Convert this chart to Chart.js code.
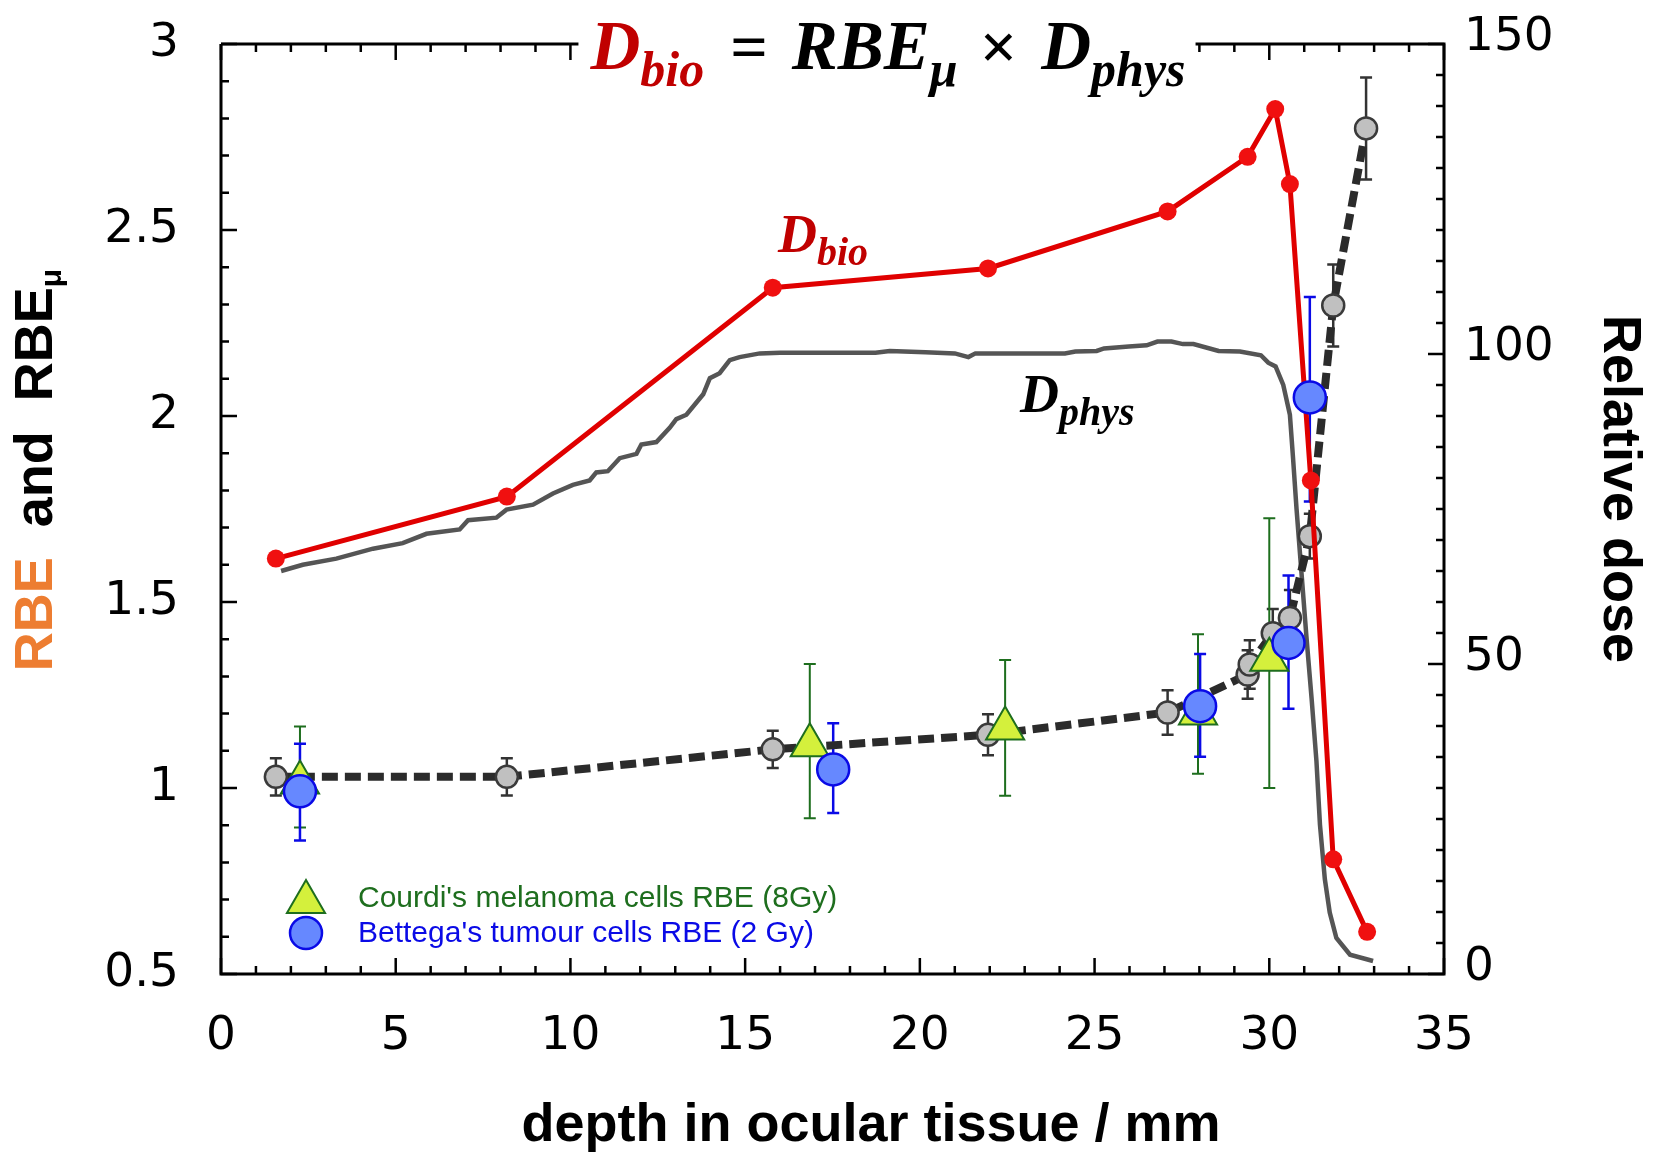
<!DOCTYPE html>
<html lang="en">
<head>
<meta charset="UTF-8">
<title>RBE and relative dose vs depth in ocular tissue</title>
<script src="https://cdn.jsdelivr.net/npm/chart.js"></script>
<style>
    html, body { margin: 0; padding: 0; background: #fff; }
    #chart { display: block; }
</style>
</head>
<body>
<canvas id="chart" width="1654" height="1154"></canvas>
<script>
// axis ticks
const xTicks = [0, 5, 10, 15, 20, 25, 30, 35];
const rbeTicks = [0.5, 1, 1.5, 2, 2.5, 3];
const doseTicks = [0, 50, 100, 150];

// physical depth-dose curve, D_phys (relative dose)
const physDepth = [1.72, 2.34, 3.30, 4.35, 5.20, 5.88, 6.83, 7.07, 7.88, 8.17, 8.93, 9.50, 10.07, 10.55, 10.74,
    11.07, 11.41, 11.89, 12.03, 12.46, 12.84, 13.03, 13.32, 13.80, 13.99, 14.27, 14.56, 14.84, 15.42, 16.00,
    18.73, 19.14, 20.16, 21.00, 21.39, 21.59, 24.15, 24.45, 25.06, 25.27, 25.98, 26.49, 26.80, 27.20, 27.53,
    27.83, 28.55, 29.16, 29.76, 29.97, 30.18, 30.40, 30.59, 30.68, 30.78, 30.92, 31.06, 31.21, 31.35, 31.45,
    31.59, 31.73, 31.92, 32.31, 32.97];
const physDose = [65.0, 66.0, 67.0, 68.6, 69.5, 71.0, 71.7, 73.2, 73.6, 74.9, 75.7, 77.5, 78.9, 79.6, 80.9,
    81.1, 83.2, 83.9, 85.4, 85.8, 88.1, 89.5, 90.2, 93.5, 96.1, 96.9, 99.0, 99.5, 100.1, 100.2,
    100.2, 100.5, 100.3, 100.1, 99.5, 100.1, 100.1, 100.4, 100.5, 100.9, 101.2, 101.4, 102.0, 102.0, 101.6,
    101.6, 100.5, 100.4, 99.8, 98.6, 98.0, 95.0, 90.2, 83.2, 75.0, 64.8, 54.6, 44.5, 34.3, 24.1,
    15.3, 9.9, 5.8, 3.1, 2.1];

// biological dose D_bio = RBE_mu x D_phys (relative dose)
const bioDepth = [1.57, 8.18, 15.79, 21.95, 27.09, 29.38, 30.17, 30.59, 31.19, 31.83, 32.80];
const bioDose = [67.0, 77.0, 110.7, 113.8, 123.0, 131.8, 139.5, 127.4, 79.6, 18.5, 6.8];

// RBE_mu (grey markers, dashed line) with symmetric error
const muDepth = [1.57, 8.18, 15.79, 21.95, 27.09, 29.38, 29.44, 30.10, 30.59, 31.16, 31.83, 32.77];
const muRbe = [1.03, 1.03, 1.104, 1.143, 1.203, 1.305, 1.332, 1.416, 1.457, 1.677, 2.297, 2.773];
const muErr = [0.05, 0.05, 0.05, 0.055, 0.06, 0.065, 0.065, 0.065, 0.075, 0.06, 0.11, 0.137];

// Courdi's melanoma cells RBE (8Gy)
const courdiDepth = [2.26, 16.85, 22.44, 27.96, 30.00];
const courdiRbe = [1.015, 1.115, 1.16, 1.20, 1.345];
const courdiHigh = [1.165, 1.333, 1.344, 1.413, 1.725];
const courdiLow = [0.894, 0.919, 0.979, 1.038, 1.0];

// Bettega's tumour cells RBE (2 Gy)
const bettegaDepth = [2.26, 17.52, 28.02, 30.55, 31.16];
const bettegaRbe = [0.991, 1.05, 1.22, 1.39, 2.05];
const bettegaHigh = [1.119, 1.174, 1.36, 1.571, 2.32];
const bettegaLow = [0.859, 0.933, 1.084, 1.213, 1.77];

const toXY = (xs, ys) => xs.map((x, i) => ({ x: x, y: ys[i] }));

const RED = '#e00000';
const TITLE_RED = '#c00000';
const GREEN = '#1e6e1e';
const BLUE = '#0a0ae6';
const SANS = '"Liberation Sans", Arial, sans-serif';
const NUM = '"DejaVu Sans", "Liberation Sans", sans-serif';
const SERIF = '"Liberation Serif", "Times New Roman", serif';

// sequence of text pieces, used for the formula and the curve labels
function drawPieces(ctx, pieces, x, y) {
    let cx = x;
    pieces.forEach(p => {
        if (p.gap) { cx += p.gap; return; }
        ctx.font = p.f;
        ctx.fillStyle = p.c || '#000';
        ctx.fillText(p.t, cx, y + (p.dy || 0));
        cx += ctx.measureText(p.t).width;
    });
    return cx - x;
}
function piecesWidth(ctx, pieces) {
    let w = 0;
    pieces.forEach(p => {
        if (p.gap) { w += p.gap; return; }
        ctx.font = p.f;
        w += ctx.measureText(p.t).width;
    });
    return w;
}

const frame = {
    id: 'frame',
    beforeDatasetsDraw(chart) {
        const { ctx, chartArea: a, scales } = chart;
        const x = scales.x, y = scales.y, y2 = scales.y2;
        ctx.save();
        ctx.strokeStyle = '#000';
        ctx.lineWidth = 3;
        ctx.beginPath();
        ctx.moveTo(a.left, a.top);
        ctx.lineTo(a.left, a.bottom);
        ctx.lineTo(a.right, a.bottom);
        ctx.lineTo(a.right, a.top);
        ctx.lineTo(a.left, a.top);
        ctx.stroke();

        // inward ticks
        ctx.lineWidth = 2.5;
        ctx.beginPath();
        for (let i = 0; i <= 35; i++) {
            const px = x.getPixelForValue(i);
            const len = i % 5 === 0 ? 16 : 8;
            ctx.moveTo(px, a.bottom); ctx.lineTo(px, a.bottom - len);
            ctx.moveTo(px, a.top); ctx.lineTo(px, a.top + len);
        }
        for (let i = 5; i <= 30; i++) {
            const py = y.getPixelForValue(i / 10);
            const len = i % 5 === 0 ? 16 : 8;
            ctx.moveTo(a.left, py); ctx.lineTo(a.left + len, py);
        }
        for (let v = 0; v <= 150; v += 5) {
            const py = y2.getPixelForValue(v);
            const len = v % 50 === 0 ? 16 : 8;
            ctx.moveTo(a.right, py); ctx.lineTo(a.right - len, py);
        }
        ctx.stroke();

        // error bars
        const bar = (xs, lo, hi, color, width, cap) => {
            ctx.strokeStyle = color;
            ctx.lineWidth = width;
            ctx.beginPath();
            xs.forEach((d, i) => {
                const px = x.getPixelForValue(d);
                const p1 = y.getPixelForValue(lo[i]);
                const p2 = y.getPixelForValue(hi[i]);
                ctx.moveTo(px, p1); ctx.lineTo(px, p2);
                ctx.moveTo(px - cap, p1); ctx.lineTo(px + cap, p1);
                ctx.moveTo(px - cap, p2); ctx.lineTo(px + cap, p2);
            });
            ctx.stroke();
        };
        bar(muDepth, muRbe.map((v, i) => v - muErr[i]), muRbe.map((v, i) => v + muErr[i]), '#333', 2.5, 6);
        bar(courdiDepth, courdiLow, courdiHigh, GREEN, 2, 6);
        bar(bettegaDepth, bettegaLow, bettegaHigh, BLUE, 2.5, 6);
        ctx.restore();
    },
    afterDraw(chart) {
        const { ctx, chartArea: a } = chart;
        ctx.save();
        ctx.textBaseline = 'alphabetic';
        ctx.textAlign = 'left';

        // formula on top of the frame
        const mainF = 'bold italic 69px ' + SERIF;
        const subF = 'bold italic 50px ' + SERIF;
        const upF = 'bold 66px ' + SERIF;
        const formula = [
            { t: 'D', f: mainF, c: TITLE_RED },
            { t: 'bio', f: subF, c: TITLE_RED, dy: 17 },
            { gap: 26 },
            { t: '=', f: upF },
            { gap: 24 },
            { t: 'RBE', f: mainF },
            { t: '\u03bc', f: subF, dy: 17 },
            { gap: 22 },
            { t: '\u00d7', f: upF },
            { gap: 24 },
            { t: 'D', f: mainF },
            { t: 'phys', f: subF, dy: 17 }
        ];
        const fw = piecesWidth(ctx, formula);
        const fx = 888 - fw / 2;
        ctx.fillStyle = '#fff';
        ctx.fillRect(fx - 12, a.top - 4, fw + 22, 22);
        drawPieces(ctx, formula, fx, 69);

        // curve labels
        drawPieces(ctx, [
            { t: 'D', f: 'bold italic 54px ' + SERIF, c: TITLE_RED },
            { t: 'bio', f: 'bold italic 40px ' + SERIF, c: TITLE_RED, dy: 13 }
        ], 778, 252);
        drawPieces(ctx, [
            { t: 'D', f: 'bold italic 54px ' + SERIF },
            { t: 'phys', f: 'bold italic 40px ' + SERIF, dy: 13 }
        ], 1020, 412);

        // x axis title
        ctx.textBaseline = 'middle';
        ctx.textAlign = 'center';
        ctx.font = 'bold 54px ' + SANS;
        ctx.fillStyle = '#000';
        ctx.fillText('depth in ocular tissue / mm', 871, 1126);

        // right axis title, reading downwards
        ctx.translate(1619, 489);
        ctx.rotate(Math.PI / 2);
        ctx.fillText('Relative dose', 0, 0);
        ctx.setTransform(1, 0, 0, 1, 0, 0);

        // left axis title: RBE (orange) and RBE_mu
        ctx.textAlign = 'left';
        ctx.translate(37, 470);
        ctx.rotate(-Math.PI / 2);
        const tF = 'bold 54px ' + SANS;
        const tS = 'bold 30px ' + SANS;
        const yTitle = [
            { t: 'RBE', f: tF, c: '#ed7d31' },
            { t: '  and  RBE', f: tF },
            { t: '\u03bc', f: tS, dy: 16 }
        ];
        drawPieces(ctx, yTitle, -piecesWidth(ctx, yTitle) / 2, 0);
        ctx.setTransform(1, 0, 0, 1, 0, 0);

        // legend
        const lx = 306;
        ctx.lineWidth = 2;
        ctx.fillStyle = '#d4f03c';
        ctx.strokeStyle = GREEN;
        const r = 22, ty = 902;
        ctx.beginPath();
        ctx.moveTo(lx, ty - r);
        ctx.lineTo(lx + r * Math.sin(2 * Math.PI / 3), ty + r / 2);
        ctx.lineTo(lx - r * Math.sin(2 * Math.PI / 3), ty + r / 2);
        ctx.closePath();
        ctx.fill(); ctx.stroke();
        ctx.lineWidth = 2.5;
        ctx.fillStyle = '#6688ff';
        ctx.strokeStyle = BLUE;
        ctx.beginPath();
        ctx.arc(lx, 933, 16, 0, Math.PI * 2);
        ctx.fill(); ctx.stroke();
        ctx.font = '30px ' + SANS;
        ctx.textBaseline = 'middle';
        ctx.fillStyle = GREEN;
        ctx.fillText("Courdi's melanoma cells RBE (8Gy)", 358, 899);
        ctx.fillStyle = BLUE;
        ctx.fillText("Bettega's tumour cells RBE (2 Gy)", 358, 934);
        ctx.restore();
    }
};

new Chart(document.getElementById('chart'), {
    type: 'line',
    data: {
        datasets: [
            {
                label: "Bettega's tumour cells RBE (2 Gy)",
                data: toXY(bettegaDepth, bettegaRbe),
                yAxisID: 'y',
                showLine: false,
                pointStyle: 'circle',
                pointRadius: 16,
                pointBackgroundColor: '#6688ff',
                pointBorderColor: BLUE,
                pointBorderWidth: 2.5,
                order: 0
            },
            {
                label: "Courdi's melanoma cells RBE (8Gy)",
                data: toXY(courdiDepth, courdiRbe),
                yAxisID: 'y',
                showLine: false,
                pointStyle: 'triangle',
                pointRadius: 22,
                pointBackgroundColor: '#d4f03c',
                pointBorderColor: GREEN,
                pointBorderWidth: 2,
                order: 1
            },
            {
                label: 'D_bio',
                data: toXY(bioDepth, bioDose),
                yAxisID: 'y2',
                borderColor: RED,
                borderWidth: 5,
                pointRadius: 9,
                pointBackgroundColor: '#f01010',
                pointBorderWidth: 0,
                order: 2
            },
            {
                label: 'RBE_mu',
                data: toXY(muDepth, muRbe),
                yAxisID: 'y',
                borderColor: '#2b2b2b',
                borderWidth: 8,
                borderDash: [16, 7],
                pointRadius: 11,
                pointBackgroundColor: '#c0c0c0',
                pointBorderColor: '#3a3a3a',
                pointBorderWidth: 2.5,
                order: 3
            },
            {
                label: 'D_phys',
                data: toXY(physDepth, physDose),
                yAxisID: 'y2',
                borderColor: '#555555',
                borderWidth: 4.5,
                pointRadius: 0,
                order: 4
            }
        ]
    },
    options: {
        responsive: false,
        animation: false,
        events: [],
        layout: { padding: { top: 44, left: 0, right: 0, bottom: 0 } },
        plugins: {
            legend: { display: false },
            tooltip: { enabled: false }
        },
        scales: {
            x: {
                type: 'linear',
                position: 'bottom',
                min: xTicks[0],
                max: xTicks[xTicks.length - 1],
                afterBuildTicks: s => { s.ticks = xTicks.map(v => ({ value: v })); },
                afterFit: s => { s.height = 180; s.paddingLeft = 0; s.paddingRight = 0; },
                grid: { display: false, drawTicks: false },
                border: { display: false },
                ticks: { color: '#000', font: { family: NUM, size: 47 }, padding: 35, maxRotation: 0 }
            },
            y: {
                type: 'linear',
                position: 'left',
                min: rbeTicks[0],
                max: rbeTicks[rbeTicks.length - 1],
                afterBuildTicks: s => { s.ticks = rbeTicks.map(v => ({ value: v })); },
                afterFit: s => { s.width = 221; s.paddingTop = 0; s.paddingBottom = 0; },
                grid: { display: false, drawTicks: false },
                border: { display: false },
                ticks: { color: '#000', font: { family: NUM, size: 47 }, padding: 42, callback: v => String(v) }
            },
            y2: {
                type: 'linear',
                position: 'right',
                min: doseTicks[0],
                max: doseTicks[doseTicks.length - 1],
                afterBuildTicks: s => { s.ticks = doseTicks.map(v => ({ value: v })); },
                afterFit: s => { s.width = 210; s.paddingTop = 0; s.paddingBottom = 0; },
                grid: { display: false, drawTicks: false },
                border: { display: false },
                ticks: { color: '#000', font: { family: NUM, size: 47 }, padding: 20, labelOffset: -6, callback: v => String(v) }
            }
        }
    },
    plugins: [frame]
});
</script>
</body>
</html>
